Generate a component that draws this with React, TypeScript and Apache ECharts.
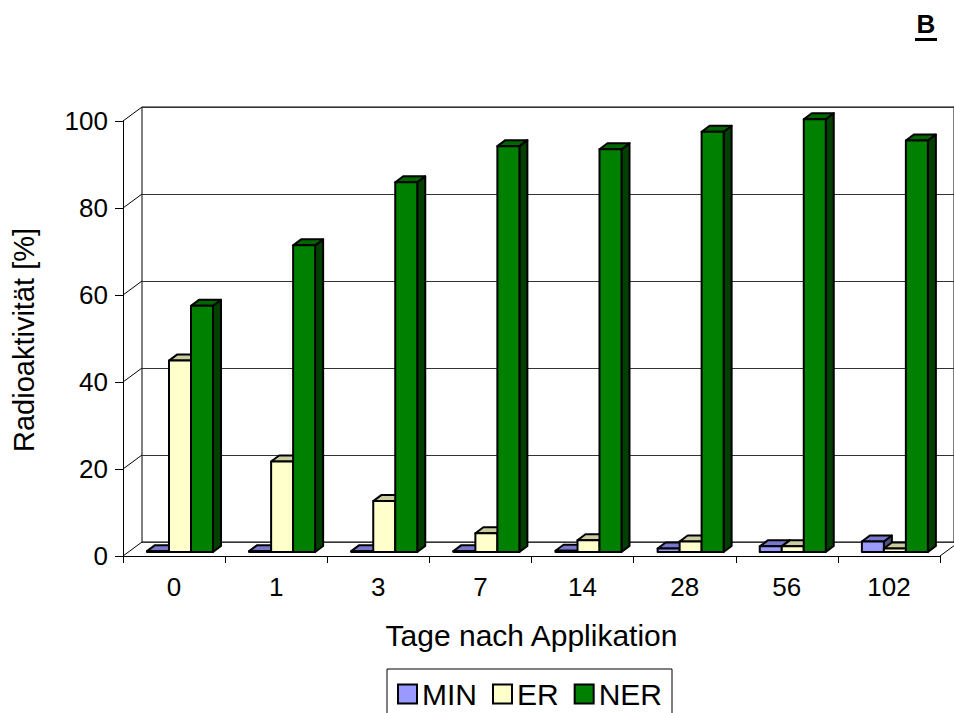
import React, { useEffect, useRef } from "react";
import * as echarts from "echarts";

const categories = ["0", "1", "3", "7", "14", "28", "56", "102"];
const seriesNames = ["MIN", "ER", "NER"];
const minValues = [0.2, 0.2, 0.2, 0.2, 0.3, 0.8, 1.3, 2.4];
const erValues = [44, 20.8, 11.7, 4.3, 2.7, 2.4, 1.3, 0.8];
const nerValues = [56.6, 70.5, 85, 93.3, 92.6, 96.6, 99.5, 94.6];
const yTicks = [0, 20, 40, 60, 80, 100];

const FONT = '"Liberation Sans", Arial, sans-serif';
// colors: front, top, side
const palette = [
  ["#9999FF", "#7777CC", "#4D4D80"],
  ["#FFFFCC", "#CCCCA3", "#808066"],
  ["#008000", "#006600", "#004000"],
];

const WALL_DX = 19;
const WALL_DY = -14;
const BAR_W = 22;
const BAR_START = 24;
const FRONT_DY = -4;
const DEPTH_DX = 8;
const DEPTH_DY = -6;

function barRenderer(sIdx: number) {
  return (params: any, api: any) => {
    const idx = api.value(0);
    const val = api.value(1);
    const band = api.size([1, 0])[0];
    const c0 = api.coord([idx, 0]);
    const c1 = api.coord([idx, val]);
    const left = c0[0] - band / 2 + BAR_START + sIdx * BAR_W;
    const right = left + BAR_W;
    const base = c0[1] + FRONT_DY;
    const top = c1[1] + FRONT_DY;
    const [cf, ct, cs] = palette[sIdx];
    const stroke = { stroke: "#000", lineWidth: 2, lineJoin: "round" };
    return {
      type: "group",
      children: [
        {
          type: "polygon",
          shape: {
            points: [
              [right, top],
              [right + DEPTH_DX, top + DEPTH_DY],
              [right + DEPTH_DX, base + DEPTH_DY],
              [right, base],
            ],
          },
          style: { fill: cs, ...stroke },
        },
        {
          type: "polygon",
          shape: {
            points: [
              [left, top],
              [left + DEPTH_DX, top + DEPTH_DY],
              [right + DEPTH_DX, top + DEPTH_DY],
              [right, top],
            ],
          },
          style: { fill: ct, ...stroke },
        },
        {
          type: "rect",
          shape: { x: left, y: top, width: BAR_W, height: base - top },
          style: { fill: cf, ...stroke },
        },
      ],
    };
  };
}

function wallRenderer(params: any, api: any) {
  const v = api.value(1);
  const cs = params.coordSys;
  const y = api.coord([0, v])[1];
  const x0 = cs.x;
  const children: any[] = [
    {
      type: "line",
      shape: { x1: x0, y1: y, x2: x0 + WALL_DX, y2: y + WALL_DY },
      style: { stroke: "#000", lineWidth: 1 },
    },
  ];
  if (v === 0) {
    const xr = cs.x + cs.width;
    children.push({
      type: "line",
      shape: { x1: xr, y1: y, x2: xr + WALL_DX, y2: y + WALL_DY },
      style: { stroke: "#000", lineWidth: 1 },
    });
  }
  return { type: "group", children };
}

export default function App() {
  const ref = useRef<HTMLDivElement>(null);
  useEffect(() => {
    document.body.style.margin = "0";
    const chart = echarts.init(ref.current!, null, { renderer: "svg" });
    const valuesBySeries = [minValues, erValues, nerValues];
    chart.setOption({
      animation: false,
      backgroundColor: "#fff",
      textStyle: { fontFamily: FONT },
      grid: [
        { left: 123, top: 121, width: 817, height: 435 },
        {
          left: 123 + WALL_DX,
          top: 121 + WALL_DY,
          width: 817,
          height: 435,
          show: true,
          borderColor: "#000",
          borderWidth: 1,
        },
      ],
      xAxis: [
        {
          type: "category",
          gridIndex: 0,
          data: categories,
          boundaryGap: true,
          axisLine: { lineStyle: { color: "#000", width: 1 } },
          axisTick: { show: true, length: 7, interval: 0, lineStyle: { color: "#000" } },
          axisLabel: { color: "#000", fontSize: 26, margin: 18, fontFamily: FONT, interval: 0 },
          name: "Tage nach Applikation",
          nameLocation: "middle",
          nameGap: 64,
          nameTextStyle: { color: "#000", fontSize: 30, fontFamily: FONT },
        },
        {
          type: "category",
          gridIndex: 1,
          data: categories,
          show: false,
        },
      ],
      yAxis: [
        {
          type: "value",
          gridIndex: 0,
          min: 0,
          max: 100,
          interval: 20,
          axisLine: { show: true, lineStyle: { color: "#000", width: 1 } },
          axisTick: { show: true, length: 8, lineStyle: { color: "#000" } },
          axisLabel: { color: "#000", fontSize: 26, margin: 15, fontFamily: FONT },
          splitLine: { show: false },
        },
        {
          type: "value",
          gridIndex: 1,
          min: 0,
          max: 100,
          interval: 20,
          axisLine: { show: false },
          axisTick: { show: false },
          axisLabel: { show: false },
          splitLine: { show: true, lineStyle: { color: "#333", width: 1 } },
        },
      ],
      legend: {
        left: 387,
        top: 669,
        padding: [10, 10, 13, 10],
        itemWidth: 19,
        itemHeight: 19,
        itemGap: 15,
        icon: "rect",
        borderColor: "#000",
        borderWidth: 1,
        backgroundColor: "#fff",
        textStyle: { color: "#000", fontSize: 30, fontFamily: FONT },
        data: seriesNames.map((n, i) => ({
          name: n,
          itemStyle: { color: palette[i][0], borderColor: "#000", borderWidth: 2 },
        })),
      },
      graphic: [
        {
          type: "text",
          x: 24,
          y: 340,
          rotation: Math.PI / 2,
          style: {
            text: "Radioaktivität [%]",
            font: `29px ${FONT}`,
            fill: "#000",
            textAlign: "center",
            textVerticalAlign: "middle",
          },
        },
        {
          type: "text",
          x: 926,
          y: 24,
          style: {
            text: "B",
            font: `bold 26px ${FONT}`,
            fill: "#000",
            textAlign: "center",
            textVerticalAlign: "middle",
          },
        },
        {
          type: "rect",
          shape: { x: 915, y: 38, width: 22, height: 3 },
          style: { fill: "#000" },
        },
      ],
      series: [
        {
          type: "custom",
          name: "walls",
          xAxisIndex: 0,
          yAxisIndex: 0,
          renderItem: wallRenderer,
          data: yTicks.map((t) => [0, t]),
          silent: true,
          z: 1,
        },
        ...seriesNames.map((n, i) => ({
          type: "custom",
          name: n,
          xAxisIndex: 0,
          yAxisIndex: 0,
          itemStyle: { color: palette[i][0], borderColor: "#000", borderWidth: 2 },
          renderItem: barRenderer(i),
          data: valuesBySeries[i].map((v, k) => [k, v]),
          z: 2 + i,
        })),
      ],
    });
    return () => chart.dispose();
  }, []);
  return (
    <div
      ref={ref}
      style={{ position: "fixed", left: 0, top: 0, width: 954, height: 713 }}
    />
  );
}
